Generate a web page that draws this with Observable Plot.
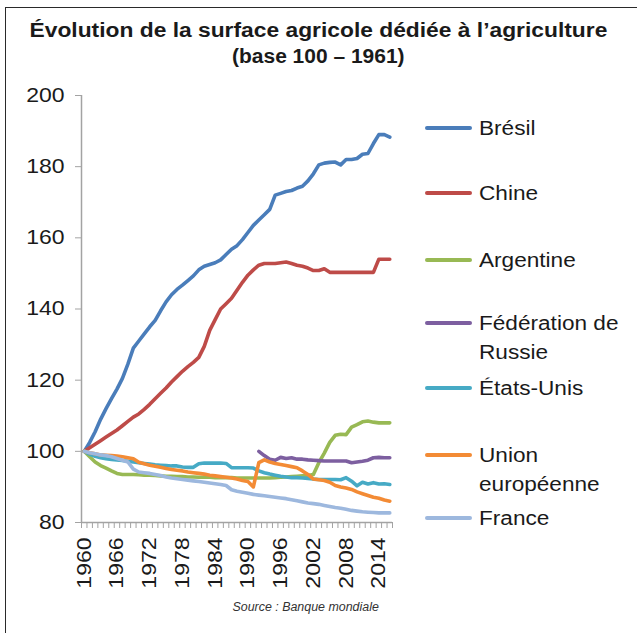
<!DOCTYPE html>
<html><head><meta charset="utf-8">
<script src="https://cdn.jsdelivr.net/npm/d3@7"></script>
<script src="https://cdn.jsdelivr.net/npm/@observablehq/plot@0.6"></script>
<style>
body{margin:0;background:#fff;}
#wrap{position:relative;width:637px;height:633px;overflow:hidden;font-family:"Liberation Sans",Arial,sans-serif;color:#1a1a1a;background:#fff}
#frame{position:absolute;left:5px;top:7px;width:640px;height:640px;border-left:1.5px solid #2a2a2a;border-top:1.5px solid #2a2a2a;box-sizing:border-box}
.title{position:absolute;white-space:nowrap;font-weight:bold;font-size:20px;line-height:24px;transform-origin:center;}
.src{position:absolute;white-space:nowrap;font-style:italic;font-size:12.5px;line-height:16px;color:#333;transform-origin:center;}
.lg{position:absolute;white-space:nowrap;font-size:20px;line-height:29px;transform-origin:left center;transform:scaleX(1.13)}
.lgline{position:absolute;height:4px;border-radius:2px;width:47px}
#chart{position:absolute;left:0;top:0}
</style>
</head><body>
<div id="wrap">
  <div id="frame"></div>
  <div id="chart"></div>
</div>
<script>
const names = ["Brésil","Chine","Argentine","Fédération de Russie","États-Unis","Union européenne","France"];
const colors = ["#4A7DBA","#BE4B48","#98B954","#7D5FA0","#46AAC5","#F38B35","#9DB8DE"];
const legendLines = [["Brésil"],["Chine"],["Argentine"],["Fédération de","Russie"],["États-Unis"],["Union","européenne"],["France"]];
const startYear = 1960;
const russieStart = 1992;
const yTicks = [80,100,120,140,160,180,200];
const xLabels = [1960,1966,1972,1978,1984,1990,1996,2002,2008,2014];

const bresil = [100,102.5,105.5,109,112,114.8,117.5,120.5,124.5,129,
  131,133,135,136.8,139.5,142,144,145.5,146.7,148,
  149.3,151,152,152.5,153,153.8,155.3,156.8,157.8,159.5,
  161.5,163.5,165,166.5,168,172,172.5,173,173.3,174,
  174.5,176,178,180.5,181,181.2,181.3,180.5,182,182,
  182.3,183.5,183.7,186.5,189,189,188.3];
const chine = [100,101,102,103,104,105,106,107.2,108.4,109.6,
  110.5,111.8,113.2,114.8,116.3,117.8,119.5,121,122.5,123.8,
  125,126.4,129.5,134,137,140,141.5,143,145.3,147.5,
  149.5,151,152.3,152.8,152.8,152.8,153,153.2,152.8,152.3,
  152,151.5,150.8,150.8,151.3,150.3,150.3,150.3,150.3,150.3,
  150.3,150.3,150.3,150.3,154,154,154];
const argentine = [100,98.5,97,96,95.3,94.5,93.8,93.5,93.5,93.5,
  93.4,93.3,93.3,93.2,93.1,93.0,93.0,92.9,92.9,92.8,
  92.8,92.7,92.7,92.7,92.6,92.6,92.6,92.6,92.5,92.5,
  92.5,92.5,92.5,92.5,92.5,92.6,92.7,92.8,92.9,93.0,
  93.1,93.2,93.5,96.8,99.5,102.5,104.5,104.8,104.7,106.8,
  107.5,108.3,108.5,108.2,108,108,108];
const russie = [100,98.8,97.8,97.5,98.3,98,98.2,97.8,97.8,97.6,
  97.5,97.4,97.3,97.3,97.3,97.3,97.3,96.8,97,97.2,
  97.5,98.2,98.3,98.2,98.2];
const etatsUnis = [100,99.2,98.6,98.2,97.9,97.7,97.6,97.4,97.2,97.0,
  96.8,96.6,96.4,96.2,96.1,96.0,95.9,95.9,95.6,95.5,
  95.5,96.5,96.7,96.7,96.7,96.7,96.6,95.4,95.4,95.4,
  95.4,95.3,94.5,94.0,93.6,93.3,93.0,92.8,92.6,92.6,
  92.5,92.4,92.2,92.1,92.1,92.1,92.1,92.0,92.6,91.6,
  90.3,91.3,90.8,91.2,90.8,90.9,90.7];
const ue = [100,99.6,99.3,99.0,98.9,98.8,98.7,98.5,98.2,97.9,
  96.9,96.5,96.1,95.8,95.5,95.2,94.9,94.7,94.5,94.2,
  94.0,93.8,93.6,93.3,93.1,92.9,92.7,92.5,92.2,91.8,
  91.5,90.0,96.8,97.6,97.0,96.6,96.3,96.0,95.7,95.4,
  94.5,93.5,92.2,92.0,91.8,91.3,90.4,90.0,89.7,89.3,
  88.6,88.1,87.6,87.1,86.8,86.3,86.0];
const france = [100,99.6,99.3,99.0,98.8,98.5,98.0,97.5,97.0,95.0,
  94.2,94.0,93.8,93.5,93.2,92.8,92.5,92.3,92.1,91.9,
  91.7,91.5,91.3,91.1,90.9,90.7,90.4,89.2,88.8,88.5,
  88.2,87.9,87.7,87.5,87.3,87.1,86.9,86.7,86.4,86.1,
  85.8,85.5,85.3,85.1,84.8,84.5,84.2,84.0,83.7,83.4,
  83.2,83.0,82.9,82.8,82.7,82.7,82.7];

const seriesList = [[names[0],bresil,startYear],[names[1],chine,startYear],[names[2],argentine,startYear],
  [names[3],russie,russieStart],[names[4],etatsUnis,startYear],[names[5],ue,startYear],[names[6],france,startYear]];
const rows = [];
for (const [name, vals, start] of seriesList) vals.forEach((v,i)=>rows.push({country:name, year:start+i, value:v}));

const lastYear = startYear + bresil.length - 1;
const boundaries = d3.range(startYear - 0.5, lastYear + 1, 1);
const axisColor = "#a3a3a3";

const plot = Plot.plot({
  width: 637, height: 633,
  marginLeft: 81, marginRight: 245, marginTop: 95, marginBottom: 111,
  x: {domain: [startYear - 0.5, lastYear + 0.5], label: null},
  y: {domain: [80, 200], label: null},
  color: {domain: names, range: colors},
  style: {fontFamily: '"Liberation Sans", Arial, sans-serif', fontSize: "20px", color: "#1a1a1a", background: "transparent", overflow: "visible"},
  marks: [
    Plot.ruleY([80], {stroke: axisColor, strokeWidth: 1.5}),
    Plot.ruleX([startYear - 0.5], {stroke: axisColor, strokeWidth: 1.5}),
    Plot.axisY(yTicks, {tickSize: 6, tickPadding: 11, fontSize: 20, stroke: axisColor, fill: "#1a1a1a", label: null}),
    Plot.axisX(boundaries, {tickSize: 6, stroke: axisColor, tickFormat: () => "", label: null}),
    Plot.axisX(xLabels, {tickSize: 0, tickPadding: 15, tickRotate: -90, fontSize: 20, fill: "#1a1a1a", tickFormat: d => String(d), label: null}),
    Plot.line(rows, {x: "year", y: "value", z: "country", stroke: "country", strokeWidth: 3.6, strokeLinejoin: "round", strokeLinecap: "round"})
  ]
});
document.getElementById("chart").appendChild(plot);

// widen tick labels slightly along their reading direction
d3.select(plot).selectAll('g[aria-label="y-axis tick label"] text, g[aria-label="x-axis tick label"] text').each(function(){
  const t = this.getAttribute("transform");
  if (t) this.setAttribute("transform", t + " scale(1.15,1)");
  else {
    const x = this.getAttribute("x") || 0, y = this.getAttribute("y") || 0;
    this.removeAttribute("x"); this.removeAttribute("y");
    this.setAttribute("transform", `translate(${x},${y}) scale(1.15,1)`);
  }
});

const wrap = document.getElementById("wrap");
function centered(cls, text, cx, cy, targetW){
  const el = document.createElement("div");
  el.className = cls; el.textContent = text;
  wrap.appendChild(el);
  const w = el.offsetWidth, h = el.offsetHeight;
  el.style.left = (cx - w/2) + "px";
  el.style.top = (cy - h/2) + "px";
  el.style.transform = `scaleX(${targetW / w})`;
}
centered("title", "Évolution de la surface agricole dédiée à l’agriculture", 318, 30, 578);
centered("title", "(base 100 – 1961)", 318, 56, 173);
centered("src", "Source : Banque mondiale", 305, 607, 146);

// legend
const legendY = [128, 193, 260, 323, 388, 455, 518];
names.forEach((n, i) => {
  const line = document.createElement("div");
  line.className = "lgline";
  line.style.left = "425px";
  line.style.top = (legendY[i] - 2) + "px";
  line.style.background = colors[i];
  wrap.appendChild(line);
  const lab = document.createElement("div");
  lab.className = "lg";
  lab.style.left = "479px";
  lab.style.top = (legendY[i] - 14.5) + "px";
  lab.innerHTML = legendLines[i].join("<br>");
  wrap.appendChild(lab);
});
</script>
</body></html>
